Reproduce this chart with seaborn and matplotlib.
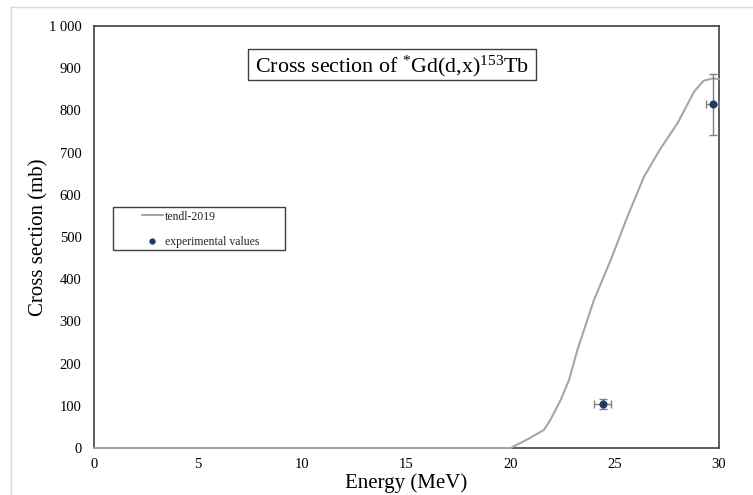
import matplotlib
matplotlib.use("Agg")
import matplotlib.pyplot as plt
import seaborn as sns
import numpy as np
from matplotlib.patches import Rectangle
from matplotlib.lines import Line2D
from matplotlib.ticker import FuncFormatter

# ---- data ----
tendl_energy = [0, 19.3, 20.0, 20.9, 21.6, 21.9, 22.4, 22.8, 23.2, 24.0, 24.8, 25.6,
                26.4, 27.2, 28.0, 28.3, 28.8, 29.25, 29.7, 30.0]
tendl_sigma = [0, 0, 0, 23, 43, 66, 114, 161, 232, 351, 445, 548,
               643, 710, 769, 797, 844, 870, 876, 874]

exp_energy = [24.42, 29.70]
exp_sigma = [104, 814]
exp_energy_err = [0.4, 0.3]
exp_sigma_err = [12, 72]

x_ticks = [0, 5, 10, 15, 20, 25, 30]
y_ticks = [0, 100, 200, 300, 400, 500, 600, 700, 800, 900, 1000]

title_text = "Cross section of $^{*}$Gd(d,x)$^{153}$Tb"
x_label = "Energy (MeV)"
y_label = "Cross section (mb)"
line_label = "tendl-2019"
point_label = "experimental values"

# ---- style ----
sns.set_theme(style="white")
plt.rcParams["font.family"] = ["Liberation Serif", "DejaVu Serif"]
plt.rcParams["mathtext.fontset"] = "custom"
plt.rcParams["mathtext.rm"] = "Liberation Serif"
plt.rcParams["mathtext.it"] = "Liberation Serif:italic"
plt.rcParams["mathtext.bf"] = "Liberation Serif:bold"

W, H = 753, 495
fig = plt.figure(figsize=(W / 100, H / 100), dpi=100)
ax = fig.add_axes([94 / W, 1 - 448 / H, (719 - 94) / W, (448 - 26) / H])

# outer chart-area border
fig.add_artist(Line2D([11 / W, 11 / W], [1 - 7 / H, 0], color="#D9D9D9", lw=1,
                      transform=fig.transFigure))
fig.add_artist(Line2D([11 / W, 1], [1 - 7 / H, 1 - 7 / H], color="#D9D9D9", lw=1,
                      transform=fig.transFigure))

line_color = "#A6A6A6"
point_color = "#1F3864"
err_color = "#7F7F7F"

sns.lineplot(x=tendl_energy, y=tendl_sigma, ax=ax, color=line_color, lw=1.5,
             sort=False, label=line_label, zorder=3, clip_on=False)

ax.errorbar(exp_energy, exp_sigma, xerr=exp_energy_err, yerr=exp_sigma_err,
            fmt="none", ecolor=err_color, elinewidth=1, capsize=3, capthick=1, zorder=4)
sns.scatterplot(x=exp_energy, y=exp_sigma, ax=ax, color=point_color, s=28,
                edgecolor=point_color, linewidth=0.5, label=point_label, zorder=5)

ax.set_xlim(0, 30)
ax.set_ylim(0, 1000)
ax.set_xticks(x_ticks)
ax.set_yticks(y_ticks)
ax.yaxis.set_major_formatter(FuncFormatter(lambda v, p: f"{int(v):,}".replace(",", " ")))
ax.tick_params(axis="both", length=0, labelsize=10.5, colors="black")
ax.tick_params(axis="y", pad=9)
ax.tick_params(axis="x", pad=7)

for s in ax.spines.values():
    s.set_color("#404040")
    s.set_linewidth(1.2)
    s.set_visible(True)

ax.set_xlabel(x_label, fontsize=15, color="black", labelpad=2)
ax.set_ylabel(y_label, fontsize=15, color="black", labelpad=0)

# title box
ax.add_patch(Rectangle((248 / W, 1 - 80 / H), (536 - 248) / W, (80 - 49) / H,
                       transform=fig.transFigure, facecolor="white", edgecolor="#404040",
                       lw=1, zorder=8, clip_on=False))
ax.text(392 / W, 1 - 66 / H, title_text, transform=fig.transFigure, ha="center", va="center",
        fontsize=15.8, color="black", zorder=9)

# legend with custom frame
ax.add_patch(Rectangle((113 / W, 1 - 250 / H), (285 - 113) / W, (250 - 207) / H,
                       transform=fig.transFigure, facecolor="white", edgecolor="#404040",
                       lw=1, zorder=8, clip_on=False))
leg = ax.legend(loc="upper left", bbox_to_anchor=(138 / W, 1 - 207 / H),
                bbox_transform=fig.transFigure, frameon=False, fontsize=8.5,
                handlelength=1.8, handletextpad=0.15, labelspacing=1.1, borderpad=0.3,
                borderaxespad=0, markerscale=0.75)
leg.set_zorder(10)

fig.savefig("out.png", dpi=100)
